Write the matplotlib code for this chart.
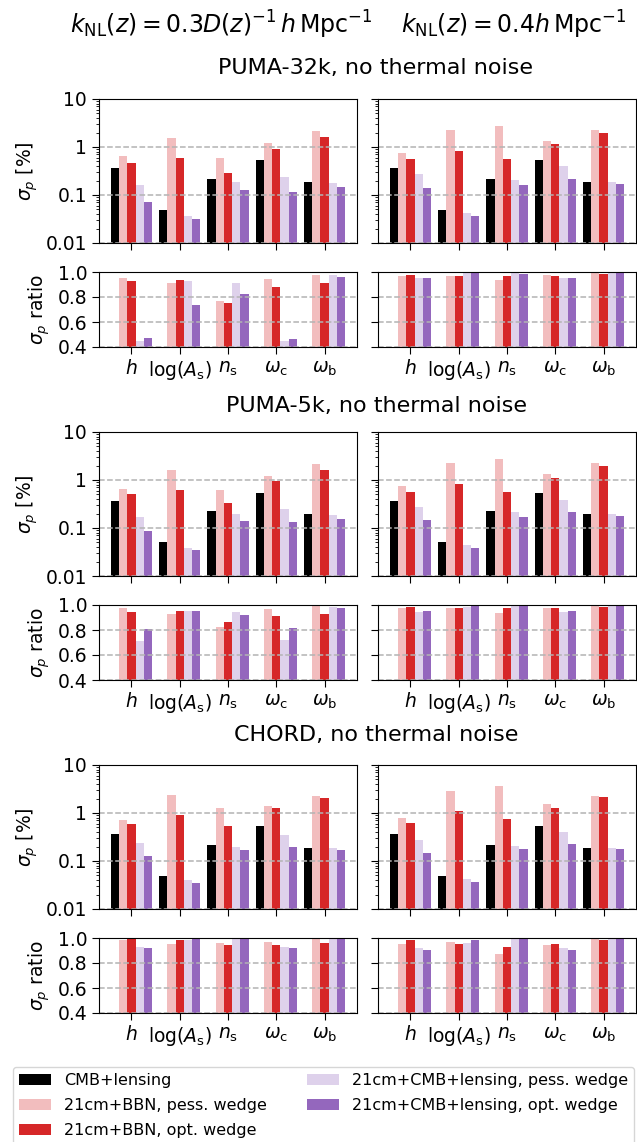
import numpy as np
import matplotlib
matplotlib.use("Agg")
import matplotlib.pyplot as plt
from matplotlib.ticker import FixedLocator, FixedFormatter, NullFormatter, LogLocator

# ---------------- data ----------------
params = [r"$h$", r"$\log(A_{\rm s})$", r"$n_{\rm s}$", r"$\omega_{\rm c}$", r"$\omega_{\rm b}$"]
series = ["CMB+lensing", "21cm+BBN, pess. wedge", "21cm+BBN, opt. wedge",
          "21cm+CMB+lensing, pess. wedge", "21cm+CMB+lensing, opt. wedge"]
row_titles = ["PUMA-32k, no thermal noise", "PUMA-5k, no thermal noise", "CHORD, no thermal noise"]
col_titles = [r"$k_{\rm NL}(z) = 0.3D(z)^{-1}\,h\,{\rm Mpc}^{-1}$", r"$k_{\rm NL}(z) = 0.4h\,{\rm Mpc}^{-1}$"]

# sigma_p [%]  (rows: survey, cols: k_NL choice), per series lists over params
cmb = [0.36, 0.049, 0.214, 0.53, 0.186]

puma32_a_bbn_pess = [0.64, 1.51, 0.58, 1.19, 2.11]
puma32_a_bbn_opt  = [0.46, 0.58, 0.285, 0.895, 1.585]
puma32_a_cmb_pess = [0.161, 0.0368, 0.186, 0.236, 0.177]
puma32_a_cmb_opt  = [0.0716, 0.0319, 0.127, 0.115, 0.146]
puma32_b_bbn_pess = [0.74, 2.21, 2.68, 1.31, 2.21]
puma32_b_bbn_opt  = [0.556, 0.813, 0.556, 1.135, 1.92]
puma32_b_cmb_pess = [0.272, 0.0424, 0.204, 0.398, 0.186]
puma32_b_cmb_opt  = [0.14, 0.0368, 0.161, 0.214, 0.169]

puma5_cmb = [0.374, 0.0505, 0.221, 0.547, 0.192]
puma5_a_bbn_pess = [0.66, 1.64, 0.63, 1.23, 2.18]
puma5_a_bbn_opt  = [0.50, 0.63, 0.324, 0.97, 1.64]
puma5_a_cmb_pess = [0.166, 0.038, 0.192, 0.243, 0.183]
puma5_a_cmb_opt  = [0.085, 0.0345, 0.137, 0.131, 0.151]
puma5_b_bbn_pess = [0.764, 2.28, 2.76, 1.35, 2.28]
puma5_b_bbn_opt  = [0.574, 0.84, 0.574, 1.12, 1.98]
puma5_b_cmb_pess = [0.268, 0.0438, 0.211, 0.392, 0.192]
puma5_b_cmb_opt  = [0.144, 0.038, 0.166, 0.211, 0.174]

chord_cmb = [0.362, 0.049, 0.214, 0.53, 0.186]
chord_a_bbn_pess = [0.705, 2.32, 1.25, 1.37, 2.21]
chord_a_bbn_opt  = [0.583, 0.895, 0.53, 1.25, 2.01]
chord_a_cmb_pess = [0.236, 0.0405, 0.195, 0.345, 0.186]
chord_a_cmb_opt  = [0.127, 0.0351, 0.169, 0.195, 0.169]
chord_b_bbn_pess = [0.776, 2.81, 3.73, 1.51, 2.21]
chord_b_bbn_opt  = [0.611, 1.08, 0.74, 1.25, 2.11]
chord_b_cmb_pess = [0.272, 0.0424, 0.204, 0.398, 0.186]
chord_b_cmb_opt  = [0.146, 0.0368, 0.177, 0.225, 0.177]

# sigma_p ratio (4 non-CMB series)
puma32_a_ratio = [[0.95, 0.912, 0.769, 0.942, 0.975],
                  [0.926, 0.934, 0.752, 0.884, 0.912],
                  [0.45, 0.926, 0.912, 0.45, 0.975],
                  [0.472, 0.736, 0.827, 0.463, 0.959]]
puma32_b_ratio = [[0.967, 0.967, 0.934, 0.975, 1.0],
                  [0.975, 0.967, 0.967, 0.967, 0.983],
                  [0.95, 1.0, 1.0, 0.95, 1.0],
                  [0.95, 1.0, 0.983, 0.95, 1.0]]
puma5_a_ratio = [[0.973, 0.932, 0.825, 0.965, 1.0],
                 [0.948, 0.956, 0.866, 0.915, 0.932],
                 [0.711, 0.956, 0.948, 0.719, 0.981],
                 [0.809, 0.956, 0.924, 0.817, 0.973]]
puma5_b_ratio = [[0.973, 0.973, 0.94, 0.973, 1.0],
                 [0.981, 0.973, 0.973, 0.973, 0.981],
                 [0.948, 0.981, 1.0, 0.948, 1.0],
                 [0.956, 1.0, 1.0, 0.956, 1.0]]
chord_a_ratio = [[0.981, 0.956, 0.964, 0.972, 1.0],
                 [1.0, 0.981, 0.948, 0.948, 0.964],
                 [0.931, 0.981, 1.0, 0.931, 1.0],
                 [0.923, 1.0, 1.0, 0.923, 1.0]]
chord_b_ratio = [[0.956, 0.972, 0.873, 0.948, 1.0],
                 [0.981, 0.956, 0.931, 0.956, 0.981],
                 [0.923, 0.964, 1.0, 0.923, 1.0],
                 [0.906, 0.981, 1.0, 0.906, 1.0]]

sigma_panels = [
    [[cmb, puma32_a_bbn_pess, puma32_a_bbn_opt, puma32_a_cmb_pess, puma32_a_cmb_opt],
     [cmb, puma32_b_bbn_pess, puma32_b_bbn_opt, puma32_b_cmb_pess, puma32_b_cmb_opt]],
    [[puma5_cmb, puma5_a_bbn_pess, puma5_a_bbn_opt, puma5_a_cmb_pess, puma5_a_cmb_opt],
     [puma5_cmb, puma5_b_bbn_pess, puma5_b_bbn_opt, puma5_b_cmb_pess, puma5_b_cmb_opt]],
    [[chord_cmb, chord_a_bbn_pess, chord_a_bbn_opt, chord_a_cmb_pess, chord_a_cmb_opt],
     [chord_cmb, chord_b_bbn_pess, chord_b_bbn_opt, chord_b_cmb_pess, chord_b_cmb_opt]],
]
ratio_panels = [[puma32_a_ratio, puma32_b_ratio],
                [puma5_a_ratio, puma5_b_ratio],
                [chord_a_ratio, chord_b_ratio]]

colors = ["black", "tab:red", "tab:red", "tab:purple", "tab:purple"]
alphas = [1.0, 0.3, 1.0, 0.3, 1.0]

# ---------------- layout ----------------
W, H = 637, 1142
fig = plt.figure(figsize=(W / 100, H / 100), dpi=100)
plt.rcParams["mathtext.fontset"] = "dejavusans"

def add_ax(x0, y0, x1, y1, **kw):
    return fig.add_axes([x0 / W, 1 - y1 / H, (x1 - x0) / W, (y1 - y0) / H], **kw)

col_x = [(99, 357), (378, 636)]
row_step = 333
fs = 13.5
x = np.arange(len(params))
bw = 0.172

handles = None
for r in range(3):
    ly0, ly1 = 99 + row_step * r, 243 + row_step * r
    ry0, ry1 = 272 + row_step * r, 347 + row_step * r
    for c in range(2):
        x0, x1 = col_x[c]
        ax = add_ax(x0, ly0, x1, ly1)
        hs = []
        for i, vals in enumerate(sigma_panels[r][c]):
            b = ax.bar(x + (i - 2) * bw, vals, bw, color=colors[i], alpha=alphas[i],
                       label=series[i], linewidth=0)
            hs.append(b)
        if handles is None:
            handles = hs
        ax.set_yscale("log")
        ax.set_ylim(0.01, 10)
        ax.yaxis.set_major_locator(FixedLocator([0.01, 0.1, 1, 10]))
        ax.yaxis.set_minor_locator(LogLocator(base=10, subs=np.arange(2, 10), numticks=20))
        ax.yaxis.set_minor_formatter(NullFormatter())
        ax.set_xticks(x)
        ax.set_xticklabels([])
        ax.tick_params(axis="both", which="major", labelsize=fs, length=5)
        ax.grid(True, axis="y", which="major", ls="--", color="0.7", lw=1.1)
        if c == 0:
            ax.yaxis.set_major_formatter(FixedFormatter(["0.01", "0.1", "1", "10"]))
            ax.set_ylabel(r"$\sigma_p$ [%]", fontsize=fs, labelpad=4)
        else:
            ax.set_yticklabels([])

        axr = add_ax(x0, ry0, x1, ry1)
        for i, vals in enumerate(ratio_panels[r][c]):
            axr.bar(x + (i - 1) * bw, vals, bw, color=colors[i + 1], alpha=alphas[i + 1],
                    linewidth=0)
        axr.set_xlim(ax.get_xlim())
        axr.set_ylim(0.4, 1.0)
        axr.set_yticks([0.4, 0.6, 0.8, 1.0])
        axr.set_xticks(x)
        axr.set_xticklabels(params)
        axr.tick_params(axis="both", which="major", labelsize=fs, length=5)
        axr.grid(True, axis="y", ls="--", color="0.7", lw=1.1)
        if c == 0:
            axr.set_yticklabels(["0.4", "0.6", "0.8", "1.0"])
            axr.set_ylabel(r"$\sigma_p$ ratio", fontsize=fs, labelpad=4)
        else:
            axr.set_yticklabels([])

row_title_y = [68, 406, 735]
for r in range(3):
    fig.text(376 / W, 1 - row_title_y[r] / H, row_titles[r],
             ha="center", va="center", fontsize=16)

fig.text(70 / W, 1 - 25 / H, col_titles[0], ha="left", va="center", fontsize=17)
fig.text(627 / W, 1 - 25 / H, col_titles[1], ha="right", va="center", fontsize=17)

fig.legend(handles, series, ncol=2, fontsize=11.5, loc="upper left",
           bbox_to_anchor=(13 / W, 1 - 1067 / H), borderaxespad=0,
           handlelength=2.0, columnspacing=2.5, handletextpad=0.8, labelspacing=0.62)

fig.savefig("out.png", dpi=100)
